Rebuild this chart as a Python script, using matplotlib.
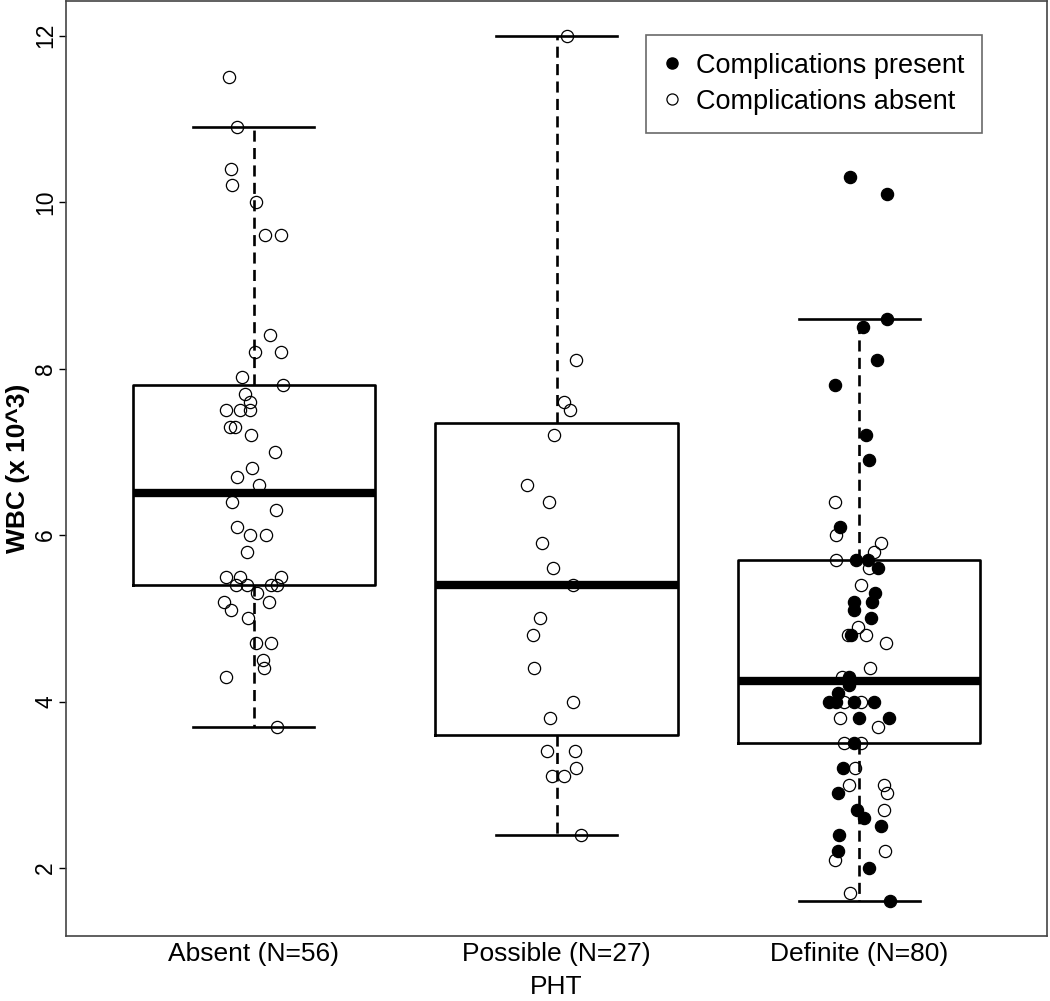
import numpy as np
import matplotlib
matplotlib.use('Agg')
import matplotlib.pyplot as plt
from matplotlib.lines import Line2D

plt.rcParams['font.family'] = ['Liberation Sans', 'DejaVu Sans']

groups = ['Absent (N=56)', 'Possible (N=27)', 'Definite (N=80)']

# box statistics
q1 = [5.4, 3.6, 3.5]
med = [6.5, 5.4, 4.25]
q3 = [7.8, 7.35, 5.7]
whislo = [3.7, 2.4, 1.6]
whishi = [10.9, 12.0, 8.6]

# jittered points: WBC value and horizontal offset from the group centre
absent_wbc = [11.5, 10.9, 10.4, 10.2, 10.0, 9.6, 9.6, 8.4, 8.2, 8.2, 7.9, 7.8, 7.7, 7.6,
              7.5, 7.5, 7.5, 7.3, 7.3, 7.2, 7.0, 6.8, 6.7, 6.6, 6.4, 6.3, 6.1, 6.0, 6.0,
              5.8, 5.5, 5.5, 5.5, 5.4, 5.4, 5.4, 5.4, 5.3, 5.2, 5.2, 5.1, 5.0, 4.7, 4.7,
              4.5, 4.4, 4.3, 3.7]
absent_jit = [-0.083, -0.056, -0.075, -0.072, 0.007, 0.036, 0.089, 0.055, 0.003, 0.090,
              -0.039, 0.096, -0.029, -0.012, -0.093, -0.045, -0.013, -0.079, -0.062, -0.010,
              0.069, -0.007, -0.054, 0.016, -0.073, 0.073, -0.056, -0.012, 0.039, -0.022,
              -0.093, -0.045, 0.090, -0.059, -0.021, 0.056, 0.078, 0.012, -0.099, 0.049,
              -0.076, -0.020, 0.009, 0.057, 0.030, 0.035, -0.093, 0.078]

possible_wbc = [12.0, 8.1, 7.6, 7.5, 7.2, 6.6, 6.4, 5.9, 5.6, 5.4, 5.0, 4.8, 4.4, 4.0,
                3.8, 3.4, 3.4, 3.2, 3.1, 3.1, 2.4]
possible_jit = [0.033, 0.064, 0.026, 0.044, -0.009, -0.098, -0.024, -0.049, -0.011, 0.053,
                -0.055, -0.077, -0.073, 0.053, -0.022, -0.030, 0.060, 0.063, -0.015, 0.024,
                0.080]

definite_open_wbc = [6.4, 6.0, 5.9, 5.8, 5.7, 5.6, 5.4, 4.9, 4.8, 4.8, 4.7, 4.4, 4.3, 4.0,
                     4.0, 3.8, 3.7, 3.5, 3.5, 3.2, 3.0, 3.0, 2.9, 2.7, 2.2, 2.1, 1.7]
definite_open_jit = [-0.079, -0.077, 0.071, 0.049, -0.077, 0.031, 0.006, -0.006, -0.039, 0.022,
                     0.089, 0.034, -0.056, -0.049, 0.006, -0.063, 0.060, -0.049, 0.006, -0.015,
                     -0.035, 0.080, 0.093, 0.081, 0.086, -0.079, -0.031]

definite_comp_wbc = [10.3, 10.1, 8.6, 8.5, 8.1, 7.8, 7.2, 6.9, 6.1, 5.7, 5.7, 5.6, 5.3, 5.2,
                     5.2, 5.1, 5.0, 4.8, 4.3, 4.2, 4.1, 4.0, 4.0, 4.0, 4.0, 3.8, 3.8, 3.5,
                     3.2, 2.9, 2.7, 2.6, 2.5, 2.4, 2.2, 2.0, 1.6]
definite_comp_jit = [-0.030, 0.093, 0.093, 0.012, 0.058, -0.082, 0.021, 0.033, -0.063, -0.011,
                     0.027, 0.060, 0.053, -0.016, 0.041, -0.019, 0.039, -0.027, -0.033, -0.035,
                     -0.069, -0.099, -0.077, -0.016, 0.047, -0.002, 0.099, -0.016, -0.053, -0.069,
                     -0.009, 0.017, 0.071, -0.067, -0.070, 0.033, 0.101]

fig = plt.figure(figsize=(10.5, 10.01), dpi=100)
ax = fig.add_axes([0.0629, 0.065, 0.9343, 0.934])

stats = []
for i in range(3):
    stats.append(dict(med=med[i], q1=q1[i], q3=q3[i], whislo=whislo[i], whishi=whishi[i], fliers=[]))

ax.bxp(stats, positions=[1, 2, 3], widths=0.8, capwidths=[0.4] * 3, showfliers=False,
       boxprops=dict(color='k', linewidth=1.9),
       medianprops=dict(color='k', linewidth=6, solid_capstyle='butt'),
       whiskerprops=dict(color='k', linewidth=1.9, linestyle=(0, (4.2, 2.4))),
       capprops=dict(color='k', linewidth=1.9))

ms = 8.8
ax.plot(1 + np.array(absent_jit), absent_wbc, 'o', ms=ms, mfc='none', mec='k', mew=0.9, zorder=5)
ax.plot(2 + np.array(possible_jit), possible_wbc, 'o', ms=ms, mfc='none', mec='k', mew=0.9, zorder=5)
ax.plot(3 + np.array(definite_open_jit), definite_open_wbc, 'o', ms=ms, mfc='none', mec='k', mew=0.9, zorder=5)
ax.plot(3 + np.array(definite_comp_jit), definite_comp_wbc, 'o', ms=ms, mfc='k', mec='k', mew=0.9, zorder=6)

ax.set_xlim(0.38, 3.62)
ax.set_ylim(1.184, 12.416)
ax.set_xticks([1, 2, 3])
ax.set_xticklabels(groups)
ax.set_yticks(np.arange(2, 13, 2))
ax.tick_params(axis='x', length=0, pad=4.5, labelsize=19)
ax.tick_params(axis='y', direction='out', length=5, width=1, pad=1.5, labelsize=16.5)
for lbl in ax.get_yticklabels():
    lbl.set_rotation(90)
    lbl.set_va('center')
for sp in ax.spines.values():
    sp.set_color('#444444')
    sp.set_linewidth(1.2)

ax.set_xlabel('PHT', fontsize=19)
ax.xaxis.set_label_coords(0.5, -0.042)
ax.set_ylabel('WBC (x 10^3)', fontsize=19, fontweight='bold')
ax.yaxis.set_label_coords(-0.037, 0.5)

handles = [Line2D([], [], ls='none', marker='o', ms=8, mfc='k', mec='k'),
           Line2D([], [], ls='none', marker='o', ms=8, mfc='none', mec='k', mew=0.9)]
leg = ax.legend(handles, ['Complications present', 'Complications absent'], loc='upper left',
                bbox_to_anchor=(0.5912, 0.9636), borderaxespad=0, fontsize=19.5, fancybox=False,
                edgecolor='#444444', handlelength=0.6, handletextpad=0.6, labelspacing=0.38,
                borderpad=0.65)
leg.get_frame().set_linewidth(1.2)

plt.savefig('out.png', dpi=100)
